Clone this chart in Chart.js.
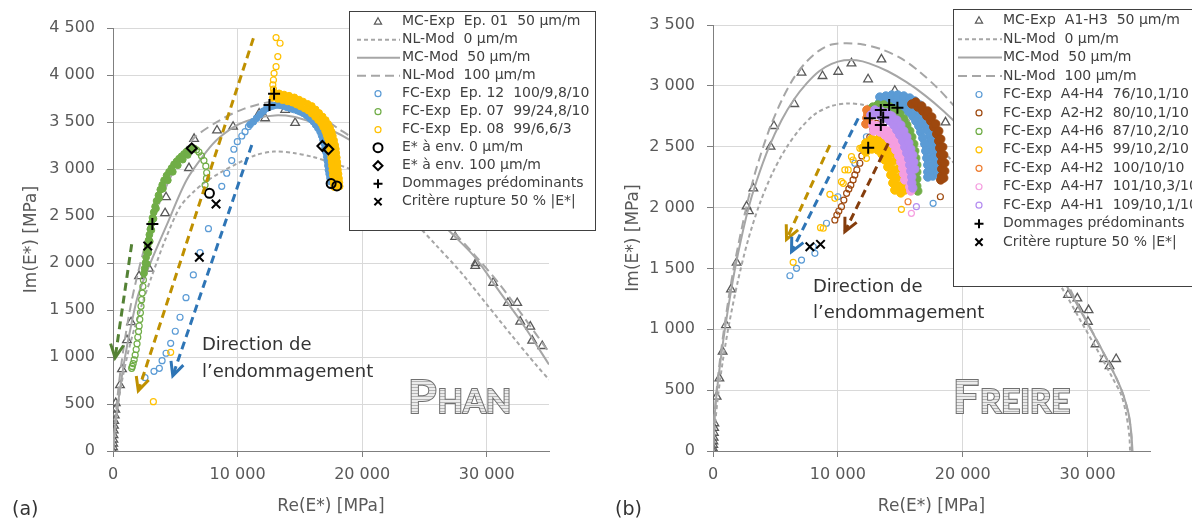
<!DOCTYPE html>
<html>
<head>
<meta charset="utf-8">
<script src="https://cdn.jsdelivr.net/npm/chart.js"></script>
<style>
  html, body { margin: 0; padding: 0; background: #fff; overflow: hidden; }
  #wrap { position: relative; width: 1192px; height: 526px; }
  .panel { position: absolute; top: 0; width: 596px; height: 526px; }
</style>
</head>
<body>
<div id="wrap">
  <div class="panel" style="left:0"><canvas id="chartA" width="596" height="526"></canvas></div>
  <div class="panel" style="left:596px"><canvas id="chartB" width="596" height="526"></canvas></div>
</div>
<script>
// ---- axes ----
const xTicks = [0, 10000, 20000, 30000];
const xMax = 35000;
const yMaxPhan = 4500;
const yMaxFreire = 3500;

// ---- (a) Phan ----
const phanMcExp = [[0,0],[10,40],[20,80],[30,120],[40,170],[60,220],[80,270],[100,320],[140,380],[180,440],
  [220,510],[560,700],[720,870],[1120,1180],[1450,1370],[2090,1860],[2890,1940],[4180,2530],[4260,2700],
  [6100,3010],[6510,3320],[8350,3410],[9640,3450],[11730,3590],[12210,3540],[13820,3630],[14620,3490],[17270,3380],
  [27470,2277],[29130,2000],[29080,1970],[30520,1790],[31700,1575],[32450,1575],[32690,1376],[33500,1323],[33650,1174],[34460,1117]];
const phanNl0 = [[0,0],[300,400],[800,800],[1500,1200],[2300,1550],[3100,1855],[4200,2250],[5400,2600],[6500,2760],
  [7500,2870],[8600,2960],[10000,3060],[11500,3150],[12900,3185],[14500,3170],[16000,3130],[17500,3070],[19000,3000],
  [20000,2910],[22000,2700],[24000,2460],[26000,2180],[28000,1890],[30000,1560],[32000,1230],[34000,910],[35000,760]];
const phanMcMod = [[0,0],[200,300],[500,600],[900,950],[1400,1300],[2000,1650],[3000,2000],[4300,2400],[5900,2880],
  [7500,3185],[8500,3330],[10000,3470],[11500,3540],[13000,3570],[14500,3555],[16000,3495],[17500,3415],[19000,3310],
  [21000,3130],[23000,2890],[25000,2620],[27000,2340],[29000,2070],[31000,1700],[33000,1330],[35000,920]];
const phanNl100 = [[0,0],[300,500],[800,1050],[1500,1600],[2500,2150],[3500,2560],[4500,2880],[5500,3130],[6500,3330],
  [8600,3520],[10500,3640],[12800,3715],[14500,3690],[16500,3570],[18200,3420],[19000,3350],[21000,3150],[23000,2920],
  [25000,2660],[27000,2380],[29000,2090],[31000,1780],[33000,1420],[35000,1050]];
const phanEp12Tail = [[2570,780],[3290,848],[3720,880],[3940,961],[4260,1040],[4630,1146],[5000,1274],[5380,1423],[5860,1631],
  [6450,1873],[6990,2110],[7660,2365],[8730,2816],[9130,2955],[9530,3090],[9700,3210],[9980,3291],[10340,3351],[10600,3397],[10870,3450]];
const phanEp12Band = [[11004,3473],[11269,3503],[11526,3540],[11807,3580],[12072,3615],[12345,3646],[12610,3662],[12875,3673],
  [13148,3681],[13413,3678],[13678,3670],[13951,3657],[14217,3646],[14498,3634],[14779,3622],[15020,3609],[15285,3592],
  [15542,3569],[15783,3542],[15944,3523],[16088,3503],[16265,3470],[16450,3435],[16626,3397],[16747,3356],[16851,3315],
  [16948,3273],[17028,3225],[17100,3178],[17165,3131],[17213,3085],[17253,3037],[17293,2989],[17357,2947],[17422,2904],[17486,2865]];
const phanEp07Tail = [[7390,2830],[7500,2900],[7520,2960],[7450,3030],[7300,3090],[7100,3140],[6900,3180],[6700,3205],
  [2440,1820],[2400,1750],[2350,1680],[2300,1610],[2250,1540],[2200,1470],[2150,1400],[2100,1330],[2050,1270],[1990,1210],
  [1930,1140],[1860,1080],[1780,1020],[1700,970],[1620,930],[1550,900],[1500,880]];
const phanEp07Band = [[6500,3220],[6300,3220],[6100,3205],[5900,3185],[5700,3160],[5500,3135],[5300,3110],[5100,3080],
  [4900,3050],[4700,3010],[4500,2970],[4300,2930],[4100,2880],[3950,2830],[3800,2780],[3650,2720],[3500,2660],[3380,2600],
  [3270,2540],[3170,2480],[3080,2420],[3000,2360],[2920,2300],[2850,2240],[2780,2180],[2720,2120],[2660,2060],[2600,2000],
  [2540,1940],[2490,1890],
  [6000,3150],[5600,3100],[5200,3040],[4800,2970],[4400,2880],[4000,2790],[3700,2690],[3450,2580],[3250,2470],[3080,2350],
  [2950,2230],[2830,2110],[2720,1990]];
const phanEp08Tail = [[3240,525],[4630,1050],
  [13090,4398],[13410,4338],[13230,4196],[13090,4089],[12930,4018],[12880,3947],[12830,3894],[12880,3850]];
const phanEp08Band = [[12932,3816],[13333,3805],[13735,3792],[14136,3779],[14562,3762],[14940,3738],[15261,3717],[15622,3693],
  [15960,3670],[16265,3633],[16546,3596],[16827,3558],[17076,3520],[17269,3479],[17429,3436],[17558,3394],[17647,3352],
  [17751,3303],[17831,3255],[17888,3213],[17920,3171],[17968,3122],[18008,3074],[18032,3032],[18056,2992],[18105,2947],
  [18145,2899],[18169,2856],[18193,2815],
  [12819,3758],[13213,3746],[13614,3732],[14016,3719],[14401,3706],[14739,3686],[15060,3665],[15381,3643],[15686,3621],
  [15951,3590],[16225,3555],[16466,3521],[16707,3486],[16867,3447],[17028,3404],[17132,3367],[17213,3335],[17293,3287],
  [17365,3245],[17429,3202],[17469,3163],[17510,3117],[17550,3074],[17582,3032],[17606,2986],[17646,2936],[17686,2888],
  [17718,2846],[17742,2808]];
const phanEnv0 = [[7740,2742],[17510,2845],[17970,2820]];
const phanEnv100 = [[6320,3220],[16810,3245],[17290,3210]];
const phanDamage = [[3160,2415],[12560,3681],[12930,3800]];
const phanRupture = [[2790,2181],[8270,2628],[6930,2061]];
const phanArrowGreen = [[1500,2200],[170,990]];
const phanArrowYellow = [[11270,4391],[2030,640]];
const phanArrowBlue = [[11140,3256],[4800,800]];

// ---- (b) Freire ----
const freMcExp = [[0,0],[10,20],[20,50],[30,80],[50,110],[70,150],[90,190],[110,228],[290,446],[510,597],[770,816],
  [1040,1035],[1440,1328],[1890,1547],[2690,2010],[2880,1970],[3230,2158],[4610,2500],[4880,2670],[6510,2851],[7090,3108],
  [8770,3081],[10030,3116],[11090,3185],[12420,3054],[13490,3218],[14560,2960],[16830,2820],[18620,2700],
  [28430,1282],[29180,1254],[29310,1164],[30080,1158],[30030,1062],[30640,877],[31310,756],[31760,698],[32290,756]];
const freNl0 = [[0,0],[150,200],[400,450],[800,750],[1300,1050],[2000,1400],[2800,1730],[3700,2020],[4700,2270],
  [5800,2480],[7000,2650],[8200,2770],[9500,2835],[10800,2855],[12000,2845],[13500,2810],[15000,2750],[16500,2670],
  [18000,2520],[19000,2400],[20000,2290],[22000,2100],[24000,1900],[26000,1640],[28000,1330],[29500,1060],[31000,790],
  [32000,600],[32700,460],[33100,300],[33350,120],[33400,0]];
const freMcMod = [[0,0],[80,200],[250,430],[550,700],[950,1000],[1450,1320],[2000,1620],[2800,1980],[3500,2220],
  [4500,2500],[5500,2720],[6500,2890],[7500,3020],[8500,3120],[9500,3180],[10500,3210],[11500,3210],[12500,3185],
  [14000,3120],[15500,3030],[17000,2920],[18500,2790],[20000,2640],[22000,2410],[24000,2140],[26000,1810],[28000,1420],
  [29500,1140],[31000,860],[32300,600],[32900,450],[33300,300],[33500,150],[33600,0]];
const freNl100 = [[0,0],[80,220],[250,460],[550,740],[950,1050],[1450,1380],[2000,1680],[2800,2060],[3500,2330],
  [4500,2640],[5500,2880],[6500,3070],[7500,3200],[8500,3290],[9500,3340],[10700,3350],[12000,3340],[13500,3300],
  [15000,3230],[16500,3120],[18000,2980],[19000,2870],[20000,2750],[22000,2500],[24000,2200],[26000,1860],[28000,1450],
  [29500,1150],[31000,860],[32300,600],[32900,450],[33300,290],[33500,130],[33550,0]];
const freA4H4Tail = [[6160,1440],[6690,1501],[7090,1569],[8030,1678],[8160,1624],[9090,1871],[10000,2089],[11360,2364],
  [12290,2582],[17630,2035]];
const freA4H4Band = [[13360,2867],[13760,2876],[14160,2885],[14560,2885],[14960,2876],[15360,2867],[15760,2851],[16080,2826],
  [16400,2793],[16640,2761],[16880,2719],[17040,2678],[17200,2637],[17360,2588],[17440,2547],[17520,2506],[17600,2457],
  [17640,2407],[17680,2358],[17680,2309],[17600,2259],
  [13360,2908],[13840,2917],[14320,2925],[14800,2925],[15280,2917],[15760,2900],[16160,2876],[16560,2843],[16880,2802],
  [17200,2752],[17440,2703],[17600,2654],[17760,2596],[17840,2539],[17920,2473],[18000,2407],[18000,2342],[18000,2284],
  [13520,2826],[14000,2834],[14480,2834],[14880,2826],[15280,2810],[15680,2785],[16000,2752],[16240,2711],[16480,2670],
  [16640,2621],[16800,2572],[16960,2522],[17040,2465],[17120,2407],[17200,2350],[17200,2292],[17200,2251]];
const freA2H2Tail = [[13100,2692],[12800,2637],[12560,2580],[12290,2528],[12080,2473],[11920,2424],[11760,2364],
  [11520,2309],[11360,2268],[11220,2227],[11040,2185],[10880,2153],[10700,2117],[10480,2062],[10290,2007],[10080,1972],
  [9920,1939],[9760,1898],[18210,2089]];
const freA2H2Band = [[15920,2851],[16400,2826],[16800,2793],[17120,2752],[17440,2711],[17680,2662],[17920,2604],[18080,2547],
  [18160,2489],[18240,2432],[18320,2374],[18320,2317],[18320,2259],[18240,2227],
  [16240,2867],[16720,2834],[17200,2793],[17520,2744],[17840,2687],[18080,2629],[18240,2563],[18400,2498],[18480,2432],
  [18560,2366],[18560,2300],[18480,2243]];
const freA4H6Band = [[12800,2826],[13200,2843],[13680,2843],[14160,2826],[14640,2802],[14960,2769],[15280,2728],[15520,2678],
  [15760,2629],[15920,2580],[16080,2522],[16160,2465],[16240,2407],[16320,2350],[16320,2292],[16320,2235],[16320,2177],[16400,2136]];
const freA4H5Tail = [[12290,2405],[11760,2487],[11220,2391],[11090,2418],[10830,2309],[10560,2309],[10430,2199],[10290,2213],
  [9760,2076],[9360,2109],[8830,1830],[8610,1835],[6420,1550],[15090,1986]];
const freA4H5Band = [[12000,2489],[12400,2522],[12880,2531],[13360,2514],[13760,2481],[14080,2432],[14320,2374],[14560,2309],
  [14720,2243],[14880,2177],[15040,2120],
  [12240,2531],[12720,2563],[13280,2563],[13760,2539],[14160,2498],[14480,2448],[14720,2391],[14960,2325],[15120,2259],
  [15280,2194],[15360,2144],
  [12240,2457],[12720,2481],[13200,2473],[13520,2440],[13760,2391],[14000,2333],[14240,2268],[14400,2202],[14560,2144]];
const freA4H2Tail = [[15620,2048]];
const freA4H2Band = [[12320,2802],[12400,2769],[12320,2736],[12480,2711],[12240,2687],[12560,2785]];
const freA4H7Tail = [[15890,1953]];
const freA4H7Band = [[12800,2678],[13200,2670],[13600,2654],[14000,2629],[14320,2596],[14640,2555],[14880,2514],[15120,2465],
  [15280,2415],[15440,2366],[15520,2317],[15600,2268],[15680,2218],[15760,2169],[15840,2136],
  [12880,2629],[13360,2621],[13760,2596],[14080,2563],[14400,2522],[14640,2473],[14880,2424],[15040,2374],[15200,2325],
  [15280,2276],[15360,2227]];
const freA4H1Tail = [[16290,2007]];
const freA4H1Band = [[12640,2761],[13040,2769],[13440,2752],[13840,2736],[14160,2711],[14480,2678],[14720,2637],[14960,2596],
  [15200,2547],[15360,2498],[15520,2448],[15680,2399],[15760,2350],[15840,2300],[15920,2251],[15920,2202],[16000,2161],
  [12960,2802],[13440,2793],[13920,2777],[14320,2752],[14720,2719],[15040,2678],[15280,2629],[15520,2580],[15680,2531],
  [15840,2481],[16000,2432],[16080,2374],[16160,2317]];
const freDamage = [[12560,2733],[13440,2802],[14110,2843],[14770,2821],[13630,2741],[13440,2678],[12430,2492]];
const freRupture = [[7760,1678],[8610,1698]];
const freArrowYellow = [[9360,2514],[5890,1739]];
const freArrowBlue = [[11630,2733],[6290,1637]];
const freArrowBrown = [[14030,2528],[10560,1802]];

const FONT = '"DejaVu Sans", sans-serif';
const NONE = 'rgba(0,0,0,0)';

function pts(arr) { return arr.map(p => ({ x: p[0], y: p[1] })); }
function fmt(v) { return String(v).replace(/\B(?=(\d{3})+(?!\d))/g, ' '); }

const mk = {
  tri: (label, data) => ({ legendText: label, data: pts(data), pointStyle: 'triangle', pointRadius: 5,
    borderColor: '#595959', backgroundColor: NONE, borderWidth: 1.3 }),
  line: (label, data, dash) => ({ legendText: label, data: pts(data), showLine: true, pointRadius: 0,
    borderColor: '#a6a6a6', borderWidth: 2, borderDash: dash, tension: 0.3 }),
  ring: (label, data, color) => ({ legendText: label, data: pts(data), pointStyle: 'circle', pointRadius: 3,
    borderColor: color, backgroundColor: NONE, borderWidth: 1.2 }),
  // densely packed rings of the same test: they merge into a solid band
  band: (data, color, r) => ({ data: pts(data), pointStyle: 'circle', pointRadius: r,
    borderColor: color, backgroundColor: color, borderWidth: 1 }),
  mark: (label, data, style, r) => ({ legendText: label, data: pts(data), pointStyle: style, pointRadius: r,
    borderColor: '#000', backgroundColor: NONE, borderWidth: 2 }),
  arrow: (data, color) => ({ data: pts(data), arrow: true, showLine: true, pointRadius: 0,
    borderColor: color, borderWidth: 3, borderDash: [8, 5] })
};

function withOrder(list) {
  list.forEach((d, i) => { d.order = d.arrow ? 0 : list.length - i; });
  return list;
}

const phanSets = withOrder([
  mk.tri('MC-Exp  Ep. 01  50 µm/m', phanMcExp),
  mk.line('NL-Mod  0 µm/m', phanNl0, [4, 3]),
  mk.line('MC-Mod  50 µm/m', phanMcMod, []),
  mk.line('NL-Mod  100 µm/m', phanNl100, [9, 5]),
  mk.ring('FC-Exp  Ep. 12  100/9,8/10', phanEp12Tail, '#5b9bd5'),
  mk.band(phanEp12Band, '#5b9bd5', 3.4),
  mk.ring('FC-Exp  Ep. 07  99/24,8/10', phanEp07Tail, '#70ad47'),
  mk.band(phanEp07Band, '#70ad47', 3.4),
  mk.ring('FC-Exp  Ep. 08  99/6,6/3', phanEp08Tail, '#ffc000'),
  mk.band(phanEp08Band, '#ffc000', 3.4),
  mk.mark('E* à env. 0 µm/m', phanEnv0, 'circle', 4.5),
  mk.mark('E* à env. 100 µm/m', phanEnv100, 'rectRot', 5),
  mk.mark('Dommages prédominants', phanDamage, 'cross', 6),
  mk.mark('Critère rupture 50 % |E*|', phanRupture, 'crossRot', 6),
  mk.arrow(phanArrowGreen, '#548235'),
  mk.arrow(phanArrowYellow, '#bf9000'),
  mk.arrow(phanArrowBlue, '#2e75b6')
]);

const freSets = withOrder([
  mk.tri('MC-Exp  A1-H3  50 µm/m', freMcExp),
  mk.line('NL-Mod  0 µm/m', freNl0, [4, 3]),
  mk.line('MC-Mod  50 µm/m', freMcMod, []),
  mk.line('NL-Mod  100 µm/m', freNl100, [9, 5]),
  mk.ring('FC-Exp  A4-H4  76/10,1/10', freA4H4Tail, '#5b9bd5'),
  mk.band(freA4H4Band, '#5b9bd5', 4.2),
  mk.ring('FC-Exp  A2-H2  80/10,1/10', freA2H2Tail, '#9e480e'),
  mk.band(freA2H2Band, '#9e480e', 4.2),
  mk.ring('FC-Exp  A4-H6  87/10,2/10', [], '#70ad47'),
  mk.band(freA4H6Band, '#70ad47', 4.2),
  mk.ring('FC-Exp  A4-H5  99/10,2/10', freA4H5Tail, '#ffc000'),
  mk.band(freA4H5Band, '#ffc000', 4.2),
  mk.ring('FC-Exp  A4-H2  100/10/10', freA4H2Tail, '#ed7d31'),
  mk.band(freA4H2Band, '#ed7d31', 4.2),
  mk.ring('FC-Exp  A4-H7  101/10,3/10', freA4H7Tail, '#f59ee0'),
  mk.band(freA4H7Band, '#f59ee0', 4.2),
  mk.ring('FC-Exp  A4-H1  109/10,1/10', freA4H1Tail, '#b48cf0'),
  mk.band(freA4H1Band, '#b48cf0', 4.2),
  mk.mark('Dommages prédominants', freDamage, 'cross', 6),
  mk.mark('Critère rupture 50 % |E*|', freRupture, 'crossRot', 6),
  mk.arrow(freArrowYellow, '#bf9000'),
  mk.arrow(freArrowBlue, '#2e75b6'),
  mk.arrow(freArrowBrown, '#843c0c')
]);

// annotation layout (pixels inside each canvas)
const decor = {
  chartA: {
    tag: { text: '(a)', x: 12, y: 510 },
    lines: [{ text: 'Direction de', x: 202, y: 345 }, { text: 'l’endommagement', x: 202, y: 372 }],
    logo: { x: 408, y: 413, parts: ['P', 'HAN'] },
    legend: { x: 349, y: 11, w: 246, h: 219, y0: 21.7, dy: 18.0, sx: 378, lx0: 357, lx1: 400, tx: 402 }
  },
  chartB: {
    tag: { text: '(b)', x: 19, y: 510 },
    lines: [{ text: 'Direction de', x: 217, y: 287 }, { text: 'l’endommagement', x: 217, y: 313 }],
    logo: { x: 357, y: 413, parts: ['F', 'REIRE'] },
    legend: { x: 357, y: 9, w: 260, h: 277, y0: 20.7, dy: 18.45, sx: 383, lx0: 362, lx1: 406, tx: 407 }
  }
};

function symbol(ctx, ds, x, y, lg) {
  ctx.save();
  ctx.strokeStyle = ds.borderColor;
  if (ds.showLine) {
    ctx.lineWidth = 2;
    ctx.setLineDash(ds.borderDash || []);
    ctx.beginPath(); ctx.moveTo(lg.lx0, y); ctx.lineTo(lg.lx1, y); ctx.stroke();
    ctx.restore();
    return;
  }
  const small = ds.pointStyle === 'triangle' || (ds.pointStyle === 'circle' && ds.pointRadius < 4);
  ctx.lineWidth = small ? 1.2 : 2;
  const r = ds.pointStyle === 'triangle' ? 4 : Math.min(ds.pointRadius, 4.5);
  ctx.beginPath();
  switch (ds.pointStyle) {
    case 'triangle':
      ctx.moveTo(x, y - r); ctx.lineTo(x + r * 0.9, y + r * 0.6); ctx.lineTo(x - r * 0.9, y + r * 0.6); ctx.closePath(); break;
    case 'circle':
      ctx.arc(x, y, r, 0, Math.PI * 2); break;
    case 'rectRot':
      ctx.moveTo(x, y - r); ctx.lineTo(x + r, y); ctx.lineTo(x, y + r); ctx.lineTo(x - r, y); ctx.closePath(); break;
    case 'cross':
      ctx.moveTo(x - r, y); ctx.lineTo(x + r, y); ctx.moveTo(x, y - r); ctx.lineTo(x, y + r); break;
    case 'crossRot':
      ctx.moveTo(x - r * 0.8, y - r * 0.8); ctx.lineTo(x + r * 0.8, y + r * 0.8);
      ctx.moveTo(x + r * 0.8, y - r * 0.8); ctx.lineTo(x - r * 0.8, y + r * 0.8); break;
  }
  ctx.stroke();
  ctx.restore();
}

function stripes(ctx) {
  const c = document.createElement('canvas');
  c.width = 4; c.height = 3;
  const g = c.getContext('2d');
  g.fillStyle = '#ececec'; g.fillRect(0, 0, 4, 3);
  g.fillStyle = '#b4b4b4'; g.fillRect(0, 0, 4, 1);
  return ctx.createPattern(c, 'repeat');
}

const decorPlugin = {
  id: 'decor',
  afterDatasetsDraw(chart) {
    const ctx = chart.ctx;
    chart.data.datasets.forEach((ds, i) => {
      if (!ds.arrow) return;
      const el = chart.getDatasetMeta(i).data;
      const a = el[0], b = el[el.length - 1];
      const ang = Math.atan2(b.y - a.y, b.x - a.x);
      ctx.save();
      ctx.strokeStyle = ds.borderColor; ctx.lineWidth = 3;
      ctx.beginPath();
      ctx.moveTo(b.x - 15 * Math.cos(ang - 0.45), b.y - 15 * Math.sin(ang - 0.45));
      ctx.lineTo(b.x, b.y);
      ctx.lineTo(b.x - 15 * Math.cos(ang + 0.45), b.y - 15 * Math.sin(ang + 0.45));
      ctx.stroke();
      ctx.restore();
    });
  },
  afterDraw(chart) {
    const d = decor[chart.canvas.id];
    const ctx = chart.ctx;
    ctx.save();
    // damage direction text
    ctx.fillStyle = '#333';
    ctx.font = '18px ' + FONT;
    ctx.textBaseline = 'middle';
    d.lines.forEach(t => ctx.fillText(t.text, t.x, t.y));
    // panel tag
    ctx.font = '19px ' + FONT;
    ctx.fillText(d.tag.text, d.tag.x, d.tag.y);
    // author logo (small caps, outlined)
    ctx.textBaseline = 'alphabetic';
    ctx.lineWidth = 2; ctx.strokeStyle = '#707070';
    ctx.fillStyle = stripes(ctx);
    let x = d.logo.x;
    d.logo.parts.forEach((p, i) => {
      ctx.font = 'bold ' + (i === 0 ? 46 : 33) + 'px Lato, sans-serif';
      ctx.strokeText(p, x, d.logo.y);
      ctx.fillText(p, x, d.logo.y);
      x += ctx.measureText(p).width + 1;
    });
    // legend box
    const lg = d.legend;
    ctx.fillStyle = '#fff';
    ctx.fillRect(lg.x, lg.y, lg.w, lg.h);
    ctx.strokeStyle = '#404040'; ctx.lineWidth = 1;
    ctx.strokeRect(lg.x + 0.5, lg.y + 0.5, lg.w, lg.h);
    ctx.font = '14px ' + FONT;
    ctx.textBaseline = 'middle';
    let row = 0;
    chart.data.datasets.forEach(ds => {
      if (!ds.legendText) return;
      const y = lg.y0 + row * lg.dy;
      symbol(ctx, ds, lg.sx, y, lg);
      ctx.fillStyle = '#404040';
      ctx.fillText(ds.legendText, lg.tx, y);
      row++;
    });
    ctx.restore();
  }
};

function scales(yMax, yWidth, yTitlePad) {
  const tickFont = { family: FONT, size: 16 };
  const titleFont = { family: FONT, size: 17 };
  const grid = { color: '#d9d9d9', tickColor: '#7f7f7f', tickLength: 6, lineWidth: 1 };
  return {
    x: {
      type: 'linear', min: 0, max: xMax,
      afterBuildTicks: s => { s.ticks = xTicks.map(v => ({ value: v })); },
      afterFit: s => { s.height = 75; },
      ticks: { color: '#595959', font: tickFont, padding: 8, maxRotation: 0, autoSkip: false, callback: fmt },
      grid: grid,
      border: { color: '#7f7f7f', width: 1 },
      title: { display: true, text: 'Re(E*) [MPa]', color: '#595959', font: titleFont, padding: { top: 0, bottom: 9 } }
    },
    y: {
      type: 'linear', min: 0, max: yMax,
      afterFit: s => { s.width = yWidth; },
      ticks: { stepSize: 500, color: '#595959', font: tickFont, padding: 12, callback: fmt },
      grid: grid,
      border: { color: '#7f7f7f', width: 1 },
      title: { display: true, text: 'Im(E*) [MPa]', color: '#595959', font: titleFont, padding: { top: yTitlePad, bottom: 0 } }
    }
  };
}

function build(id, sets, yMax, yWidth, yTitlePad, pad) {
  return new Chart(document.getElementById(id), {
    type: 'scatter',
    data: { datasets: sets },
    options: {
      responsive: false,
      animation: false,
      events: [],
      layout: { padding: pad },
      plugins: { legend: { display: false }, tooltip: { enabled: false } },
      scales: scales(yMax, yWidth, yTitlePad)
    },
    plugins: [decorPlugin]
  });
}

build('chartA', phanSets, yMaxPhan, 113, 21, { left: 0, right: 47, top: 28, bottom: 0 });
build('chartB', freSets, yMaxFreire, 117, 27, { left: 0, right: 42, top: 25, bottom: 0 });
</script>
</body>
</html>
